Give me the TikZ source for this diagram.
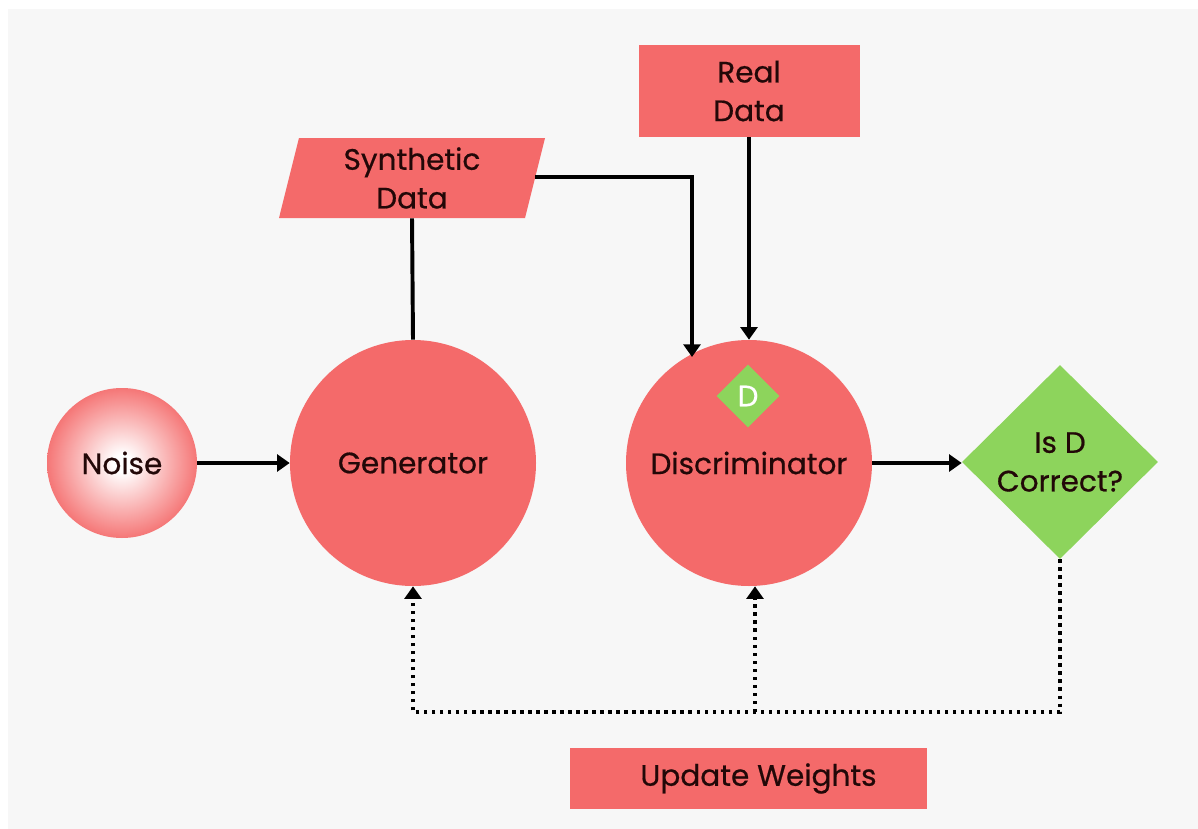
\documentclass[tikz,border=0pt]{standalone}
\usepackage{fontspec}
\setmainfont{Poppins}[FakeBold=0.6]
\usepackage{tikz}
\usetikzlibrary{shapes.geometric, arrows.meta}
\usepackage{xcolor}

\definecolor{gnred}{HTML}{F46A6A}
\definecolor{gngreen}{HTML}{8DD45C}
\definecolor{gnback}{HTML}{F7F7F7}
\definecolor{gntext}{HTML}{220808}

\pgfdeclareradialshading{noiseshade}{\pgfpoint{0bp}{0bp}}{color(0bp)=(white); color(3bp)=(white); color(27bp)=(gnred); color(50bp)=(gnred)}

\begin{document}
\begin{tikzpicture}[
    font=\fontsize{21}{27.5}\selectfont,
    every node/.style={text=gntext, align=center, inner sep=0pt},
    redblob/.style={circle, fill=gnred, minimum size=6.15cm},
    redbox/.style={rectangle, fill=gnred},
    flow/.style={line width=2.8pt, -{Triangle[length=9pt, width=12pt]}},
    feedback/.style={line width=2.8pt, dash pattern=on 2.4pt off 3.3pt, -{Triangle[length=9pt, width=12pt]}}
]

    % Page and background
    \useasboundingbox (0, 0) rectangle (29.95, -20.725);
    \fill[white] (0, 0) rectangle (29.95, -20.725);
    \fill[gnback] (0.2, -0.225) rectangle (29.95, -20.725);

    % The nodes
    \node[circle, shading=noiseshade, minimum size=3.75cm] (noise) at (3.05, -11.575) {\raisebox{-3pt}{Noise}};
    \node[redblob] (gen) at (10.325, -11.575) {\raisebox{-3pt}{Generator}};
    \node[redblob] (disc) at (18.725, -11.575) {\raisebox{-3pt}{Discriminator}};
    \node[diamond, fill=gngreen, minimum size=1.575cm, text=white] (dmark) at (18.7, -9.9) {D};
    \node[diamond, fill=gngreen, minimum width=4.9cm, minimum height=4.85cm] (check) at (26.5, -11.55) {Is D\\Correct?};
    \node[redbox, minimum width=5.525cm, minimum height=2.3cm] (real) at (18.725, -2.275) {Real\\Data};
    \node[trapezium, trapezium left angle=72, trapezium right angle=108, trapezium stretches body,
          fill=gnred, minimum width=6.65cm, minimum height=2cm] (synth) at (10.3, -4.45) {Synthetic\\Data};
    \node[redbox, minimum width=8.925cm, minimum height=1.525cm] (update) at (18.7125, -19.4625) {\hspace{0.5cm}Update Weights};

    % Corners of the lines
    \coordinate (turn) at (17.3, -4.425);   % synthetic data turns down
    \coordinate (discin) at (17.3, -8.925); % lands on the discriminator
    \coordinate (busR) at (26.5, -17.8);    % under the check
    \coordinate (busG) at (10.325, -17.8);  % under the generator
    \coordinate (busD) at (18.875, -17.8);  % under the discriminator

    % Forward flow
    \draw[flow] (noise) -- (gen);
    \draw[line width=2.8pt] (gen.north) -- (synth.south);
    \draw[flow] (synth.east |- turn) -- (turn) -- (discin);
    \draw[flow] (real.south) -- (disc.north);
    \draw[flow] (disc.east) -- (disc.east -| check.west);

    % Feedback to both networks
    \draw[feedback] (check.south) -- (busR) -- (busG) -- (gen.south);
    \draw[feedback] (busD) -- (busD |- disc.south);

\end{tikzpicture}
\end{document}
